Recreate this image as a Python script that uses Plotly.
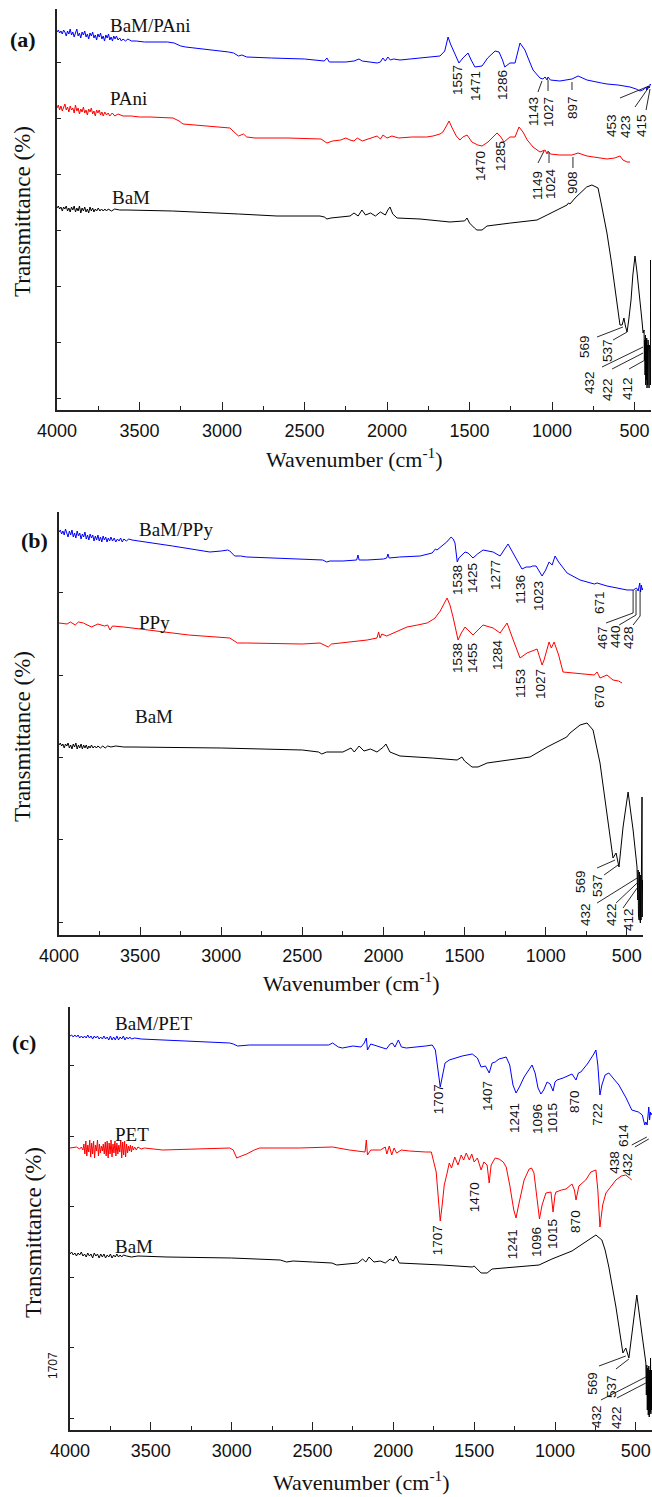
import plotly.graph_objects as go

# ---------------- DATA (wavenumber cm^-1, transmittance a.u. offset) ----------------
# Panel (a)
A_BAM_PANI = [(4000,378),(3992,380),(3984,377),(3976,379),(3968,376),(3960,380),(3952,378),(3944,374),(3936,379),(3928,376),(3920,381),(3912,375),(3904,378),(3896,373),(3888,377),(3880,381),(3872,374),(3864,377),(3856,372),(3848,378),(3840,375),(3832,379),(3824,373),(3816,376),(3808,371),(3800,377),(3792,374),(3784,378),(3776,372),(3768,375),(3760,370),(3752,376),(3744,373),(3736,377),(3728,371),(3720,374),(3712,369),(3704,375),(3696,372),(3688,376),(3680,370),(3672,373),(3664,369),(3656,374),(3648,371),(3640,374),(3630,370),(3620,372),(3610,369),(3600,371),(3585,369),(3570,371),(3550,369),(3520,369),(3470,368),(3400,368),(3330,368),(3290,367),(3250,364),(3220,363),(3100,361),(2960,358),(2930,357),(2900,354),(2880,355),(2850,353),(2700,352),(2500,351),(2380,349),(2364,352),(2350,348),(2250,348),(2200,349),(2170,351),(2150,349),(2100,348),(2060,347),(2040,348),(2025,352),(2010,349),(1995,353),(1980,350),(1960,351),(1921,350),(1850,351),(1780,352),(1720,353),(1679,354),(1650,359),(1630,373),(1615,366),(1590,357),(1564,347),(1540,352),(1509,357),(1490,350),(1467,343),(1424,344),(1390,352),(1345,359),(1321,358),(1300,350),(1286,343),(1255,347),(1224,347),(1194,367),(1175,363),(1164,360),(1140,350),(1115,340),(1073,332),(1055,331),(1042,333),(1030,330),(1024,333),(1010,330),(952,329),(900,330),(879,331),(842,334),(800,331),(788,330),(700,327),(667,326),(600,325),(527,323),(490,321),(467,319),(450,320),(440,321),(430,323),(425,320),(418,324),(410,322),(405,326),(400,325)]
A_PANI = [(4000,302),(3992,305),(3984,300),(3976,304),(3968,299),(3960,303),(3952,306),(3944,300),(3936,303),(3928,298),(3920,304),(3912,300),(3904,302),(3896,297),(3888,305),(3880,299),(3872,302),(3864,296),(3856,301),(3848,298),(3840,303),(3832,297),(3824,300),(3816,295),(3808,301),(3800,298),(3792,302),(3784,296),(3776,299),(3768,294),(3760,300),(3752,297),(3744,300),(3736,295),(3728,298),(3720,294),(3710,298),(3700,295),(3690,297),(3680,294),(3665,297),(3650,294),(3630,296),(3600,294),(3550,294),(3500,293),(3436,293),(3297,292),(3260,289),(3236,286),(3100,284),(2952,282),(2933,279),(2900,274),(2870,276),(2850,273),(2800,272),(2600,272),(2400,271),(2364,267),(2330,269),(2280,270),(2250,272),(2224,270),(2200,269),(2180,272),(2150,269),(2100,272),(2060,274),(2040,271),(2024,275),(2000,272),(1970,274),(1930,272),(1850,273),(1760,273),(1721,274),(1679,276),(1661,278),(1640,284),(1624,289),(1605,282),(1580,274),(1558,270),(1540,273),(1515,275),(1500,271),(1485,268),(1450,265),(1424,264),(1388,268),(1333,277),(1310,273),(1291,268),(1255,273),(1224,273),(1200,283),(1176,278),(1150,270),(1115,263),(1073,258),(1055,259),(1042,260),(1030,256),(1024,259),(1010,256),(952,255),(879,255),(842,257),(788,254),(700,252),(667,251),(620,252),(588,254),(570,250),(545,248),(527,248)]
A_BAM = [(4000,202),(3992,204),(3984,201),(3976,203),(3968,199),(3960,203),(3952,201),(3944,204),(3936,199),(3928,202),(3920,198),(3912,203),(3904,200),(3896,204),(3888,198),(3880,202),(3872,199),(3864,204),(3856,197),(3848,202),(3840,199),(3832,203),(3824,198),(3816,201),(3808,197),(3800,203),(3792,199),(3784,202),(3776,198),(3768,201),(3760,199),(3750,202),(3740,199),(3730,201),(3720,199),(3710,201),(3700,199),(3690,201),(3670,199),(3650,201),(3620,200),(3576,200),(3300,199),(3133,198),(2900,196),(2667,194),(2406,194),(2380,193),(2364,191),(2340,192),(2280,193),(2224,194),(2200,197),(2175,194),(2152,200),(2130,195),(2100,197),(2070,194),(2040,198),(2010,195),(1995,200),(1982,203),(1965,196),(1939,192),(1800,191),(1618,188),(1540,189),(1530,189),(1515,192),(1500,187),(1470,182),(1455,180),(1424,180),(1394,184),(1250,187),(1091,190),(1030,195),(960,201),(909,205),(900,207),(891,206),(860,212),(830,217),(790,223),(758,225),(721,222),(700,205),(667,177),(640,148),(618,123),(600,102),(588,85),(575,85),(564,92),(555,84),(545,78),(535,90),(521,110),(510,135),(497,154),(485,138),(467,113),(455,90),(448,77),(442,80),(440,50),(438,70),(436,35),(434,75),(432,25),(430,70),(428,30),(426,72),(424,22),(422,65),(420,25),(418,70),(416,28),(414,60),(412,22),(410,65),(408,30),(406,60),(404,25),(402,150),(401,30),(400,110)]

# Panel (b)
B_BAM_PPY = [(4000,403),(3992,405),(3984,401),(3976,404),(3968,400),(3960,406),(3952,402),(3944,398),(3936,404),(3928,400),(3920,405),(3912,398),(3904,402),(3896,397),(3888,404),(3880,399),(3872,402),(3864,396),(3856,401),(3848,398),(3840,403),(3832,396),(3824,400),(3816,395),(3808,401),(3800,397),(3792,400),(3784,394),(3776,399),(3768,395),(3760,400),(3752,394),(3744,398),(3736,393),(3728,399),(3720,395),(3712,398),(3704,393),(3696,397),(3688,394),(3680,398),(3670,394),(3660,397),(3650,393),(3640,396),(3630,394),(3620,397),(3610,393),(3600,396),(3585,394),(3570,396),(3550,395),(3300,389),(3070,383),(3000,384),(2960,385),(2947,384),(2917,379),(2880,379),(2843,378),(2681,377),(2500,376),(2374,375),(2350,373),(2330,374),(2250,374),(2165,375),(2157,380),(2150,375),(2100,375),(2000,376),(1980,377),(1972,381),(1965,377),(1900,378),(1774,379),(1720,381),(1700,382),(1690,384),(1680,386),(1670,385),(1640,389),(1610,393),(1583,398),(1570,396),(1559,392),(1545,373),(1535,377),(1520,379),(1497,383),(1478,382),(1448,377),(1420,381),(1386,385),(1324,383),(1281,379),(1232,391),(1190,379),(1146,366),(1120,368),(1096,368),(1080,369),(1059,369),(1022,359),(1000,365),(979,373),(960,370),(942,379),(920,373),(868,362),(788,355),(700,351),(683,352),(622,349),(560,347),(498,345),(460,345),(440,347),(430,344),(420,352),(415,343),(410,350),(405,345),(400,347)]
B_PPY = [(4000,312),(3950,311),(3930,313),(3900,310),(3880,313),(3850,312),(3800,308),(3760,311),(3720,309),(3700,310),(3686,305),(3670,309),(3600,308),(3400,304),(3200,300),(2947,297),(2930,295),(2900,292),(2843,292),(2500,291),(2391,292),(2360,290),(2340,288),(2320,291),(2200,293),(2100,295),(2040,297),(2030,303),(2021,297),(2010,301),(1980,299),(1920,303),(1855,308),(1790,310),(1731,312),(1700,315),(1682,317),(1650,324),(1608,337),(1590,330),(1571,318),(1540,295),(1520,302),(1497,308),(1448,300),(1386,310),(1324,307),(1281,302),(1238,312),(1200,295),(1158,277),(1115,282),(1053,286),(1022,270),(1010,275),(979,293),(965,287),(948,293),(920,280),(893,263),(831,262),(745,261),(700,260),(683,263),(665,257),(622,260),(600,257),(585,255),(550,254),(529,252)]
B_BAM = [(4000,190),(3992,192),(3984,189),(3976,191),(3968,187),(3960,191),(3952,189),(3944,192),(3936,187),(3928,190),(3920,186),(3912,191),(3904,188),(3896,192),(3888,186),(3880,190),(3872,187),(3864,191),(3856,186),(3848,190),(3840,187),(3832,190),(3824,186),(3816,189),(3808,187),(3800,190),(3790,187),(3780,189),(3770,187),(3760,189),(3745,187),(3730,189),(3715,187),(3700,189),(3680,188),(3650,189),(3600,188),(3550,188),(3000,187),(2500,185),(2400,183),(2380,181),(2350,183),(2250,183),(2200,187),(2180,183),(2150,189),(2120,184),(2080,186),(2040,183),(2000,188),(1985,191),(1960,183),(1898,179),(1700,177),(1546,175),(1516,178),(1500,174),(1454,168),(1417,168),(1361,172),(1096,178),(991,188),(893,196),(870,198),(850,202),(788,210),(745,212),(708,205),(665,172),(622,122),(585,77),(566,82),(548,68),(523,108),(492,143),(461,105),(437,68),(432,35),(430,65),(428,20),(426,60),(424,15),(422,63),(420,17),(418,57),(416,12),(414,60),(412,15),(410,55),(408,20),(406,138),(405,18),(403,55),(401,20),(400,45)]

# Panel (c)
C_BAM_PET = [(4000,394),(3990,395),(3980,393),(3970,395),(3960,393),(3950,395),(3940,392),(3930,394),(3920,392),(3910,394),(3900,392),(3890,395),(3880,392),(3870,394),(3860,391),(3850,394),(3840,392),(3830,394),(3820,391),(3810,393),(3800,391),(3790,394),(3780,391),(3770,393),(3760,390),(3750,394),(3740,390),(3730,393),(3720,390),(3710,394),(3700,390),(3690,393),(3680,391),(3670,394),(3660,390),(3650,393),(3640,391),(3630,393),(3620,391),(3600,392),(3560,391),(3426,390),(3012,387),(2990,386),(2963,384),(2889,385),(2580,385),(2400,385),(2376,387),(2340,383),(2315,382),(2250,384),(2200,383),(2180,387),(2167,392),(2160,380),(2140,386),(2100,384),(2060,382),(2043,381),(2020,386),(2006,387),(1990,383),(1969,390),(1950,383),(1920,382),(1800,384),(1759,385),(1740,380),(1725,360),(1710,343),(1695,355),(1680,367),(1654,370),(1574,374),(1512,376),(1480,372),(1457,363),(1430,364),(1407,357),(1389,367),(1370,368),(1346,371),(1302,373),(1280,365),(1260,345),(1241,337),(1220,343),(1191,353),(1142,365),(1123,357),(1105,342),(1087,336),(1070,340),(1049,348),(1030,346),(1012,339),(1000,348),(988,350),(950,352),(895,356),(870,350),(855,357),(840,358),(800,366),(760,376),(747,380),(735,365),(722,335),(710,345),(690,355),(667,357),(640,352),(605,345),(560,332),(525,320),(484,318),(460,315),(445,305),(438,308),(430,305),(420,323),(415,310),(410,318),(407,315),(400,317)]
C_PET = [(4000,282),(3960,283),(3940,281),(3930,283),(3920,280),(3914,286),(3908,276),(3902,289),(3896,274),(3890,285),(3884,278),(3878,290),(3872,273),(3866,287),(3860,276),(3854,289),(3848,272),(3842,285),(3836,279),(3830,290),(3824,274),(3818,286),(3812,277),(3806,284),(3800,279),(3794,286),(3788,276),(3782,288),(3776,274),(3770,289),(3764,272),(3758,287),(3752,276),(3746,290),(3740,273),(3734,286),(3728,277),(3722,289),(3716,274),(3710,287),(3704,276),(3698,285),(3692,278),(3686,290),(3680,272),(3674,288),(3668,275),(3662,289),(3656,273),(3650,286),(3644,277),(3638,284),(3632,279),(3626,285),(3620,278),(3614,284),(3608,280),(3600,283),(3590,280),(3580,283),(3560,281),(3540,282),(3426,280),(3012,282),(2990,280),(2969,272),(2940,274),(2907,276),(2860,280),(2827,282),(2580,282),(2376,283),(2272,280),(2200,279),(2175,278),(2167,290),(2160,275),(2140,280),(2080,280),(2050,283),(2040,276),(2025,284),(2010,275),(1995,282),(1980,277),(1950,280),(1900,279),(1800,278),(1765,278),(1735,258),(1722,230),(1710,209),(1698,225),(1685,245),(1670,255),(1654,267),(1640,262),(1620,273),(1600,265),(1580,275),(1565,270),(1549,277),(1530,270),(1515,276),(1500,268),(1480,272),(1457,260),(1440,268),(1420,265),(1407,247),(1395,265),(1389,267),(1370,272),(1346,271),(1320,268),(1302,263),(1280,245),(1255,220),(1241,212),(1225,225),(1191,250),(1160,261),(1145,262),(1130,257),(1110,230),(1096,211),(1080,225),(1056,237),(1025,238),(1012,218),(1000,235),(994,238),(960,240),(932,241),(895,246),(880,240),(870,230),(852,244),(810,250),(778,258),(747,260),(735,240),(722,203),(705,225),(685,237),(650,245),(623,250),(590,254),(562,255),(540,252),(525,250)]
C_BAM = [(4000,176),(3990,178),(3980,175),(3970,177),(3960,174),(3950,177),(3940,175),(3930,178),(3920,174),(3910,176),(3900,173),(3890,177),(3880,174),(3870,176),(3860,172),(3850,177),(3840,174),(3830,176),(3820,172),(3810,176),(3800,173),(3790,176),(3780,172),(3770,175),(3760,173),(3750,176),(3740,172),(3730,175),(3720,173),(3710,176),(3700,173),(3690,175),(3680,173),(3670,175),(3650,174),(3620,173),(3580,174),(3400,173),(3000,172),(2700,170),(2660,168),(2620,169),(2500,168),(2380,167),(2350,165),(2300,166),(2220,167),(2190,171),(2170,168),(2150,173),(2120,168),(2080,169),(2050,167),(2020,171),(2000,169),(1985,174),(1970,168),(1963,167),(1700,165),(1512,163),(1500,164),(1457,157),(1420,157),(1389,161),(1099,165),(1019,171),(895,179),(840,185),(800,190),(747,195),(710,190),(690,180),(667,163),(623,123),(580,77),(562,82),(543,72),(525,97),(494,135),(463,97),(438,67),(435,35),(432,65),(429,20),(426,62),(423,15),(420,64),(417,13),(414,60),(411,18),(409,72),(407,16),(404,60),(402,20),(400,45)]

X_TICKS = [4000, 3500, 3000, 2500, 2000, 1500, 1000, 500]

# Peak labels: (text, wavenumber, level)
A_PEAKS = [("1557",1576,330),("1471",1467,324),("1286",1303,325),("1143",1115,298),("1027",1024,298),("897",879,303),("453",642,284),("423",558,284),("415",461,285),("1470",1436,244),("1285",1315,254),("1149",1091,225),("1024",1012,226),("908",879,228),("569",806,63),("537",667,60),("432",776,28),("422",667,21),("412",545,21)]
B_PEAKS = [("1538",1546,355),("1425",1454,357),("1277",1312,360),("1136",1158,345),("1023",1047,339),("671",671,332),("467",652,297),("440",572,298),("428",492,297),("1538",1546,277),("1455",1454,277),("1284",1300,280),("1153",1158,251),("1027",1035,251),("670",671,238),("569",788,53),("537",683,49),("432",757,20),("422",597,20),("412",492,15)]
C_PEAKS = [("1707",1722,331),("1407",1420,334),("1241",1253,312),("1096",1111,311),("1015",1019,312),("870",883,329),("722",741,316),("614",580,295),("1470",1500,233),("1707",1728,190),("1241",1265,186),("1096",1117,188),("1015",1019,196),("870",877,209),("438",636,268),("432",556,266),("569",772,47),("537",654,44),("432",747,14),("422",623,13)]

A_LEADERS = [[(1085,318),(1061,329)],[(1024,319),(1024,330)],[(879,320),(879,328)],[(588,312),(412,324)],[(497,303),(412,323)],[(430,300),(406,321)],[(1085,247),(1048,259)],[(1018,247),(1018,258)],[(873,242),(873,253)],[(727,73),(570,83)],[(630,70),(545,78)],[(697,43),(448,63)],[(636,41),(448,57)],[(533,41),(436,50)]]
B_LEADERS = [[(628,312),(461,322),(461,345)],[(547,310),(443,320),(443,345)],[(461,310),(418,319),(418,345)],[(683,67),(572,75)],[(640,60),(554,70)],[(683,32),(436,57)],[(566,32),(436,52)],[(523,27),(436,47)]]
C_LEADERS = [[(525,285),(432,293)],[(506,283),(420,291)],[(728,64),(562,74)],[(623,61),(543,71)],[(716,30),(438,53)],[(617,32),(438,47)]]

A_NAMES = [("BaM/PAni",3691,385),("PAni",3691,312),("BaM",3679,213)]
B_NAMES = [("BaM/PPy",3519,406),("PPy",3519,313),("BaM",3544,219)]
C_NAMES = [("BaM/PET",3735,407),("PET",3735,296),("BaM",3735,184)]

# ---------------- LAYOUT GEOMETRY (pixels) ----------------
W, H = 652, 1497
PANELS = [
    dict(tag="(a)", x0=57, x1=651, top=9, bot=410, tick0=12, dtick=56,
         series=[(A_BAM_PANI, "#0000ff"), (A_PANI, "#ff0000"), (A_BAM, "#000000")],
         peaks=A_PEAKS, leaders=A_LEADERS, names=A_NAMES,
         tagpos=(23, 39), ytitle=(22, 212), xtitle_y=458),
    dict(tag="(b)", x0=59, x1=643, top=512, bot=935, tick0=13, dtick=82.3,
         series=[(B_BAM_PPY, "#0000ff"), (B_PPY, "#ff0000"), (B_BAM, "#000000")],
         peaks=B_PEAKS, leaders=B_LEADERS, names=B_NAMES,
         tagpos=(34, 540), ytitle=(22, 737), xtitle_y=982),
    dict(tag="(c)", x0=70, x1=652, top=1007, bot=1430, tick0=12, dtick=70.5,
         series=[(C_BAM_PET, "#0000ff"), (C_PET, "#ff0000"), (C_BAM, "#000000")],
         peaks=C_PEAKS, leaders=C_LEADERS, names=C_NAMES,
         tagpos=(24, 1042), ytitle=(33, 1233), xtitle_y=1481),
]

SERIF = "Times New Roman, Liberation Serif, serif"
SANS = "Arial, Liberation Sans, sans-serif"

fig = go.Figure()
annotations = []
shapes = []
layout_axes = {}

for i, p in enumerate(PANELS, start=1):
    xa = "x" if i == 1 else f"x{i}"
    ya = "y" if i == 1 else f"y{i}"
    for data, color in p["series"]:
        fig.add_trace(go.Scatter(
            x=[d[0] for d in data], y=[d[1] for d in data],
            mode="lines", line=dict(color=color, width=1.0),
            xaxis=xa, yaxis=ya, showlegend=False, hoverinfo="skip"))
    layout_axes["xaxis" if i == 1 else f"xaxis{i}"] = dict(
        domain=[p["x0"] / W, p["x1"] / W], anchor=ya, range=[4000, 400],
        automargin=False,
        showline=True, linecolor="#222", linewidth=1.6, mirror=False,
        showgrid=False, zeroline=False, ticks="inside", ticklen=8,
        tickwidth=1.3, tickcolor="#222", tickvals=X_TICKS,
        ticktext=[str(t) for t in X_TICKS],
        tickfont=dict(family=SANS, size=18, color="#111"),
        ticklabelstandoff=4,
        minor=dict(dtick=250, tick0=0, ticks="inside", ticklen=4, tickwidth=1.2, tickcolor="#222"),
    )
    ymax = p["bot"] - p["top"]
    layout_axes["yaxis" if i == 1 else f"yaxis{i}"] = dict(
        domain=[1 - p["bot"] / H, 1 - p["top"] / H], anchor=xa, range=[0, ymax],
        automargin=False,
        showline=True, linecolor="#222", linewidth=1.6, showgrid=False,
        zeroline=False, ticks="inside", ticklen=4, tickwidth=1.2, tickcolor="#222",
        tick0=p["tick0"], dtick=p["dtick"], showticklabels=False,
    )
    for text, wn, lv in p["peaks"]:
        annotations.append(dict(x=wn, y=lv, xref=xa, yref=ya, text=text, showarrow=False,
                                textangle=-90, font=dict(family=SANS, size=13.5, color="#111"),
                                xanchor="center", yanchor="middle"))
    for pts in p["leaders"]:
        path = "M " + " L ".join(f"{a},{b}" for a, b in pts)
        shapes.append(dict(type="path", path=path, xref=xa, yref=ya,
                           line=dict(color="#111", width=0.9)))
    for text, wn, lv in p["names"]:
        annotations.append(dict(x=wn, y=lv, xref=xa, yref=ya, text=text, showarrow=False,
                                font=dict(family=SERIF, size=19, color="#111"),
                                xanchor="left", yanchor="middle"))
    tx, ty = p["tagpos"]
    annotations.append(dict(x=tx / W, y=1 - ty / H, xref="paper", yref="paper",
                            text=f"<b>{p['tag']}</b>", showarrow=False,
                            font=dict(family=SERIF, size=22, color="#111"),
                            xanchor="center", yanchor="middle"))
    yx, yy = p["ytitle"]
    annotations.append(dict(x=yx / W, y=1 - yy / H, xref="paper", yref="paper",
                            text="Transmittance (%)", showarrow=False, textangle=-90,
                            font=dict(family=SERIF, size=23, color="#111"),
                            xanchor="center", yanchor="middle"))
    annotations.append(dict(x=(p["x0"] + p["x1"]) / 2 / W, y=1 - p["xtitle_y"] / H,
                            xref="paper", yref="paper",
                            text="Wavenumber (cm<sup>-1</sup>)", showarrow=False,
                            font=dict(family=SERIF, size=22, color="#111"),
                            xanchor="center", yanchor="middle"))

# stray label left of panel (c)
annotations.append(dict(x=53 / W, y=1 - 1366 / H, xref="paper", yref="paper", text="1707",
                        showarrow=False, textangle=-90,
                        font=dict(family=SANS, size=12, color="#111"),
                        xanchor="center", yanchor="middle"))

fig.update_layout(width=W, height=H, margin=dict(l=0, r=0, t=0, b=0, autoexpand=False),
                  paper_bgcolor="white", plot_bgcolor="white",
                  annotations=annotations, shapes=shapes, **layout_axes)

fig.write_html("out.html",
               config={"displayModeBar": False},
               post_script="document.body.style.margin='0';document.body.style.padding='0';"
                           "document.body.style.overflow='hidden';"
                           "document.documentElement.style.overflow='hidden';")
